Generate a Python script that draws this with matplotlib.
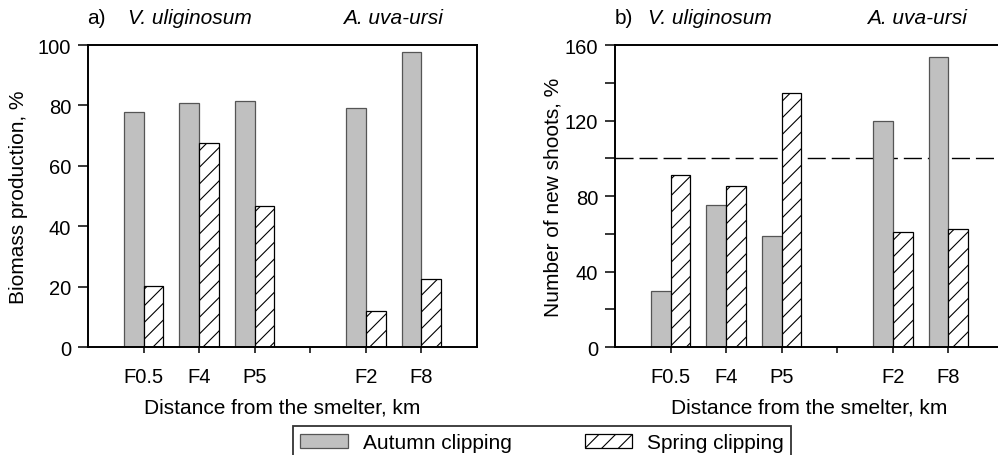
import matplotlib
matplotlib.use("Agg")
from matplotlib import pyplot as plt
from matplotlib.patches import Patch
from matplotlib.ticker import MultipleLocator

plt.rcParams['font.family'] = ['Liberation Sans', 'DejaVu Sans']
plt.rcParams['hatch.linewidth'] = 0.8

sites = ["F0.5", "F4", "P5", "", "F2", "F8"]

# biomass production, % (blank slot separates the two species)
biomassAutumn = [77.9, 80.9, 81.5, None, 79.0, 97.8]
biomassSpring = [20.3, 67.5, 46.6, None, 11.8, 22.6]

# number of new shoots, %
shootsAutumn = [29.5, 75.4, 59.0, None, 119.9, 153.5]
shootsSpring = [91.0, 85.5, 134.4, None, 60.8, 62.5]

W, H = 998, 456
fig = plt.figure(figsize=(W / 100, H / 100), dpi=100)

axA = fig.add_axes([88 / W, 1 - 348 / H, 389 / W, 302 / H])
axB = fig.add_axes([615 / W, 1 - 348 / H, 389 / W, 302 / H])

barW = 0.355
autumnStyle = dict(facecolor="#c0c0c0", edgecolor="#555555", linewidth=0.9)
springStyle = dict(facecolor="white", edgecolor="black", hatch="//", linewidth=0.9)


def drawPanel(ax, autumn, spring, ymax, major, minor, ylabel):
    pos = list(range(1, len(sites) + 1))
    for p, a, s in zip(pos, autumn, spring):
        if a is None:
            continue
        ax.bar(p, a, width=-barW, align="edge", **autumnStyle)
        ax.bar(p, s, width=barW, align="edge", **springStyle)

    ax.set_xlim(0, 7)
    ax.set_ylim(0, ymax)
    ax.set_xticks(pos)
    ax.set_xticklabels(sites)
    ax.yaxis.set_major_locator(MultipleLocator(major))
    if minor:
        ax.yaxis.set_minor_locator(MultipleLocator(minor))
    ax.tick_params(axis="y", which="both", direction="out", length=7, width=1.1,
                   labelsize=14.5, pad=5)
    ax.tick_params(axis="x", direction="out", length=4.5, width=1.1,
                   labelsize=14.5, pad=10)
    for sp in ax.spines.values():
        sp.set_linewidth(1.4)
    ax.set_xlabel("Distance from the smelter, km", fontsize=15, labelpad=8)
    ax.set_ylabel(ylabel, fontsize=15)


drawPanel(axA, biomassAutumn, biomassSpring, 100, 20, None, "Biomass production, %")
drawPanel(axB, shootsAutumn, shootsSpring, 160, 40, 20, "Number of new shoots, %")
axA.yaxis.labelpad = 7
axB.yaxis.labelpad = 2

axB.axhline(100, color="black", linewidth=1.0, linestyle=(0, (13, 4.3)), zorder=0.5)

# panel headers
y = 1 - 18 / H
for x0, tag, xv, xa in [(87, "a)", 128, 343), (615, "b)", 648, 867)]:
    fig.text(x0 / W, y, tag, fontsize=15, va="center")
    fig.text(xv / W, y, "V. uliginosum", fontsize=15, style="italic", va="center")
    fig.text(xa / W, y, "A. uva-ursi", fontsize=15, style="italic", va="center")

handles = [Patch(label="Autumn clipping", **autumnStyle),
           Patch(label="Spring clipping", **springStyle)]
leg = fig.legend(handles=handles, loc="upper left", bbox_to_anchor=(293 / W, 1 - 427 / H),
                 ncol=2, fontsize=15, frameon=True, fancybox=False, edgecolor="black",
                 borderaxespad=0, borderpad=0.35, handlelength=2.3, handleheight=0.6,
                 handletextpad=0.7, columnspacing=3.5)
leg.get_frame().set_linewidth(1.3)

fig.savefig("out.png", dpi=100)
